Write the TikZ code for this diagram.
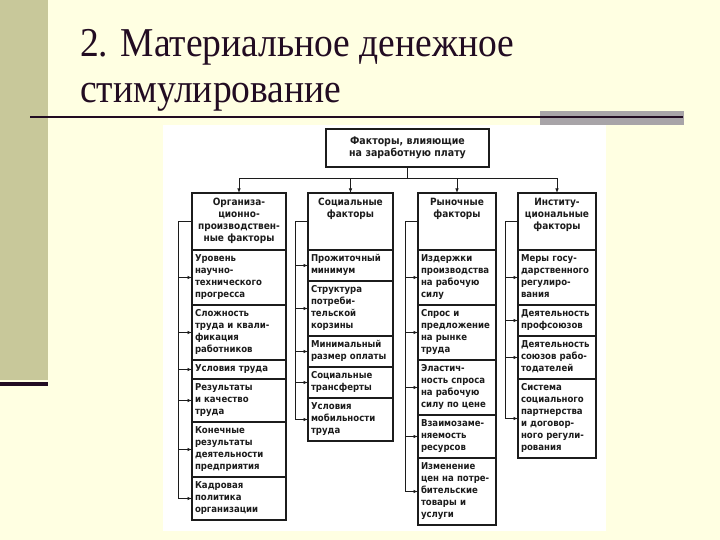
\documentclass[tikz,border=0pt]{standalone}
\usepackage{fontspec}
\setmainfont{Liberation Serif}
\newfontfamily\boxfont{DejaVu Sans Condensed}
\usetikzlibrary{arrows.meta,positioning}

\definecolor{paper}{RGB}{255,255,226}
\definecolor{band}{RGB}{200,200,154}
\definecolor{ink}{RGB}{34,12,34}
\definecolor{bargray}{RGB}{168,164,168}
\definecolor{scan}{RGB}{28,28,28}

\begin{document}
\begin{tikzpicture}[
    x=1pt, y=-1pt,
    title/.style={inner sep=0pt, text=ink, font=\fontsize{41}{46}\selectfont},
    box/.style={draw=scan, line width=1.3pt, fill=white, outer sep=0pt,
        inner xsep=3pt, inner ysep=3.5pt, text=scan,
        font=\boxfont\bfseries\fontsize{9.5}{12}\selectfont,
        execute at begin node=\strut, execute at end node=\strut},
    head/.style={box, align=center, minimum height=57pt, anchor=north, text width=#1,
        font=\boxfont\bfseries\fontsize{10}{12}\selectfont},
    item/.style={box, align=left, text width=#1},
    line/.style={draw=scan, line width=0.8pt},
    arrow/.style={line, -{Latex[length=4.5pt,width=3.5pt]}}
]
% slide background
\fill[paper] (0,0) rectangle (720,540);
\fill[band] (0,0) rectangle (48,380);
\fill[ink] (0,382) rectangle (48,386);
\fill[bargray] (540,111) rectangle (684,125);
\draw[ink, line width=2pt] (30,117.5) -- (683,117.5);
\fill[white] (163,125) rectangle (606,531);

\node[title, anchor=base west] (T1) at (80,57) {\scalebox{0.915}[1]{2. Материальное денежное}};
\node[title, anchor=base west] (T2) at (80,103) {\scalebox{0.915}[1]{стимулирование}};

% top and column heads
\node[box, align=center, text width=157pt, minimum height=38pt,
      font=\boxfont\bfseries\fontsize{10.5}{12.5}\selectfont] (F) at (407.5,148)
    {Факторы, влияющие\\на заработную плату};
\node[head=88pt] (O) at (239,193) {Организа-\\ционно-\\производствен-\\ные факторы};
\node[head=79pt] (S) at (350.5,193) {Социальные\\факторы\\~\\~};
\node[head=72pt] (R) at (457,193) {Рыночные\\факторы\\~\\~};
\node[head=72pt] (I) at (557,193) {Институ-\\циональные\\факторы\\~};

% organisational
\node[item=88pt, below=0pt of O] (O1) {Уровень\\научно-\\технического\\прогресса};
\node[item=88pt, below=0pt of O1] (O2) {Сложность\\труда и квали-\\фикация\\работников};
\node[item=88pt, below=0pt of O2] (O3) {Условия труда};
\node[item=88pt, below=0pt of O3] (O4) {Результаты\\и качество\\труда};
\node[item=88pt, below=0pt of O4] (O5) {Конечные\\результаты\\деятельности\\предприятия};
\node[item=88pt, below=0pt of O5] (O6) {Кадровая\\политика\\организации};

% social
\node[item=79pt, below=0pt of S] (S1) {Прожиточный\\минимум};
\node[item=79pt, below=0pt of S1] (S2) {Структура\\потреби-\\тельской\\корзины};
\node[item=79pt, below=0pt of S2] (S3) {Минимальный\\размер оплаты};
\node[item=79pt, below=0pt of S3] (S4) {Социальные\\трансферты};
\node[item=79pt, below=0pt of S4] (S5) {Условия\\мобильности\\труда};

% market
\node[item=72pt, below=0pt of R] (R1) {Издержки\\производства\\на рабочую\\силу};
\node[item=72pt, below=0pt of R1] (R2) {Спрос и\\предложение\\на рынке\\труда};
\node[item=72pt, below=0pt of R2] (R3) {Эластич-\\ность спроса\\на рабочую\\силу по цене};
\node[item=72pt, below=0pt of R3] (R4) {Взаимозаме-\\няемость\\ресурсов};
\node[item=72pt, below=0pt of R4] (R5) {Изменение\\цен на потре-\\бительские\\товары и\\услуги};

% institutional
\node[item=72pt, below=0pt of I] (I1) {Меры госу-\\дарственного\\регулиро-\\вания};
\node[item=72pt, below=0pt of I1] (I2) {Деятельность\\профсоюзов};
\node[item=72pt, below=0pt of I2] (I3) {Деятельность\\союзов рабо-\\тодателей};
\node[item=72pt, below=0pt of I3] (I4) {Система\\социального\\партнерства\\и договор-\\ного регули-\\рования};

% fan out
\draw[line] (F.south) -- ++(0,11) coordinate (hub);
\draw[arrow] (hub) -| (O.north);
\draw[arrow] (hub) -| (S.north);
\draw[arrow] (hub) -| (R.north);
\draw[arrow] (hub) -| (I.north);

% side brackets
\draw[line] (O.west) -- ++(-14,0) coordinate (o) -- (o |- O6.west);
\draw[arrow] (o |- O1.west) -- (O1.west);
\draw[arrow] (o |- O2.west) -- (O2.west);
\draw[arrow] (o |- O3.west) -- (O3.west);
\draw[arrow] (o |- O4.west) -- (O4.west);
\draw[arrow] (o |- O5.west) -- (O5.west);
\draw[arrow] (o |- O6.west) -- (O6.west);

\draw[line] (S.west) -- ++(-13,0) coordinate (s) -- (s |- S5.west);
\draw[arrow] (s |- S1.west) -- (S1.west);
\draw[arrow] (s |- S2.west) -- (S2.west);
\draw[arrow] (s |- S3.west) -- (S3.west);
\draw[arrow] (s |- S4.west) -- (S4.west);
\draw[arrow] (s |- S5.west) -- (S5.west);

\draw[line] (R.west) -- ++(-13,0) coordinate (r) -- (r |- R5.west);
\draw[arrow] (r |- R1.west) -- (R1.west);
\draw[arrow] (r |- R2.west) -- (R2.west);
\draw[arrow] (r |- R3.west) -- (R3.west);
\draw[arrow] (r |- R4.west) -- (R4.west);
\draw[arrow] (r |- R5.west) -- (R5.west);

\draw[line] (I.west) -- ++(-13,0) coordinate (i) -- (i |- I4.west);
\draw[arrow] (i |- I1.west) -- (I1.west);
\draw[arrow] (i |- I2.west) -- (I2.west);
\draw[arrow] (i |- I3.west) -- (I3.west);
\draw[arrow] (i |- I4.west) -- (I4.west);
\end{tikzpicture}
\end{document}
